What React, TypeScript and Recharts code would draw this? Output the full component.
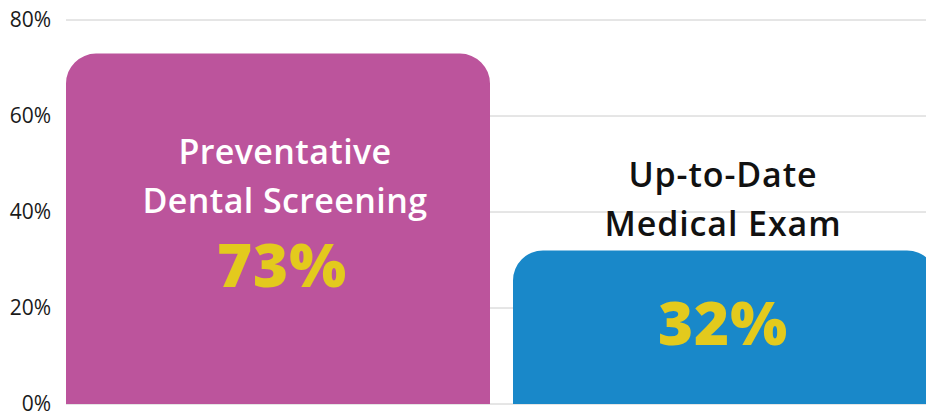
import { BarChart, Bar, XAxis, YAxis, CartesianGrid, LabelList, Cell } from "recharts";

const categories = ["Preventative\nDental Screening", "Up-to-Date\nMedical Exam"];
const values = [73, 32];
const barColors = ["#bc549c", "#1988c9"];
const yTicks = [0, 20, 40, 60, 80];

const data = categories.map((name, i) => ({ name, value: values[i] }));

const FONT = "'Open Sans', 'DejaVu Sans', sans-serif";

function BarLabel(props: any) {
  const { x, y, width, value, index } = props;
  const cx = x + width / 2;
  const lines = categories[index].split("\n");
  const inside = value > 50;
  const nameTop = inside ? y + 110 : y - 63;
  const pctY = inside ? y + 233 : y + 95;
  return (
    <g fontFamily={FONT} textAnchor="middle">
      {lines.map((t: string, i: number) => (
        <text
          key={i}
          x={cx + (inside ? 7 : -2)}
          y={nameTop + i * 49}
          fill={inside ? "#ffffff" : "#111111"}
          fontSize={34}
          fontWeight={600}
          letterSpacing={inside ? 0.4 : 0.9}
        >
          {t}
        </text>
      ))}
      <text x={cx + (inside ? 4 : -2)} y={pctY} fill="#e3ca1d" fontSize={60} fontWeight={800} letterSpacing={1}>
        {`${value}%`}
      </text>
    </g>
  );
}

export default function App() {
  return (
    <div style={{ position: "fixed", left: 0, top: 0, width: 926, height: 414, overflow: "hidden", background: "#fff" }}>
      <BarChart
        width={950}
        height={414}
        data={data}
        margin={{ top: 20, right: 1.5, bottom: 10, left: 0 }}
        barCategoryGap={11.5}
      >
        <CartesianGrid vertical={false} stroke="#cccccc" />
        <XAxis
          dataKey="name"
          tick={false}
          tickLine={false}
          height={0}
          axisLine={{ stroke: "#999999" }}
          padding={{ left: -11.5, right: 0 }}
        />
        <YAxis
          domain={[0, 80]}
          ticks={yTicks}
          interval={0}
          width={66}
          axisLine={false}
          tickLine={false}
          tickMargin={9}
          tickFormatter={(v) => `${v}%`}
          tick={{ fill: "#1a1a1a", fontSize: 21, fontFamily: FONT }}
        />
        <Bar dataKey="value" radius={[30, 30, 0, 0]} isAnimationActive={false}>
          {data.map((d, i) => (
            <Cell key={d.name} fill={barColors[i]} />
          ))}
          <LabelList dataKey="value" content={<BarLabel />} />
        </Bar>
      </BarChart>
    </div>
  );
}
